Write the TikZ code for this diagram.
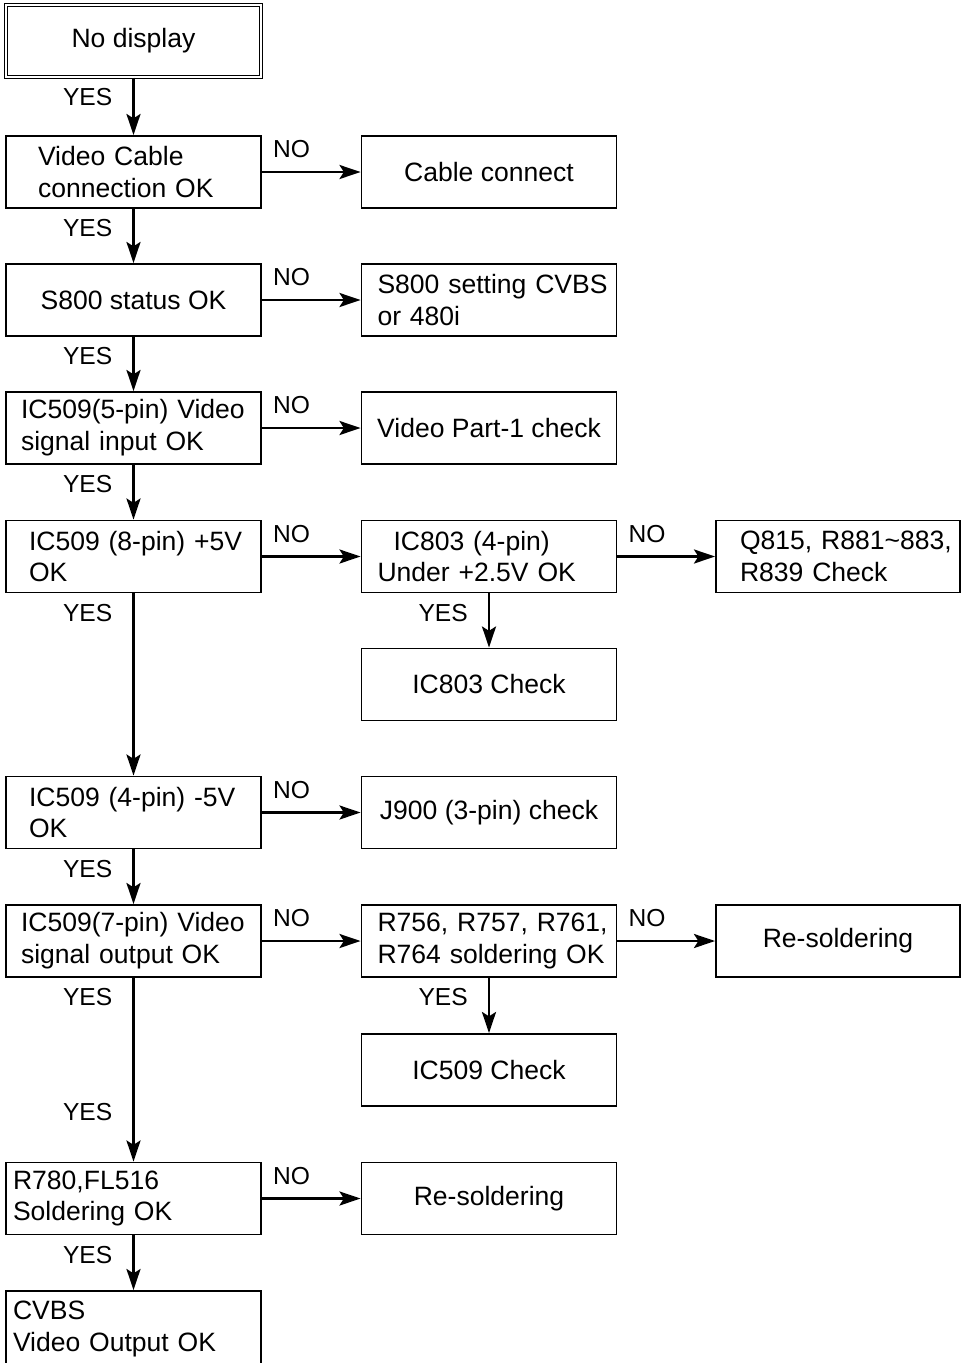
\documentclass[tikz,border=0pt]{standalone}
\usepackage{fontspec}
\setmainfont{Liberation Sans}
\usepackage{tikz}
\usetikzlibrary{arrows.meta,positioning}
\hyphenpenalty=10000
\exhyphenpenalty=10000
\tikzset{
    box/.style={draw=black, line width=1.1pt, minimum width=5.1cm, minimum height=1.44cm,
        font=\fontsize{15.1pt}{18.1pt}\selectfont, align=center},
    lbox/.style={box, align=left, inner xsep=0pt, text width=#1},
    narrow/.style={minimum width=4.88cm},
    arr/.style={line width=1.4pt, -{Stealth[length=12pt, width=8pt, inset=2.5pt]}},
    yeslbl/.style={font=\fontsize{14pt}{16pt}\selectfont, inner sep=0pt, anchor=north east, xshift=-0.4cm, yshift=-0.19cm},
    nolbl/.style={font=\fontsize{14pt}{16pt}\selectfont, inner sep=0pt, anchor=south west, xshift=0.2cm, yshift=0.26cm}
}
\begin{document}
\begin{tikzpicture}[x=0.02cm, y=-0.02cm]
        \useasboundingbox (0,0) rectangle (962,1363);
        % left column
        \node[box, double, line width=0.7pt, double distance=1.3pt] (nodisp) at (133.5, 41) {No display};
        \node[lbox=3.82cm] (vcable) at (133.5, 172) {Video~Cable\\connection~OK};
        \node[box] (s800) at (133.5, 300) {S800 status OK};
        \node[lbox=4.5cm] (ic5p) at (133.5, 428) {IC509(5-pin)~Video\\signal~input~OK};
        \node[lbox=4.18cm] (ic8p) at (133.5, 556.5) {IC509~(8-pin)~+5V\\OK};
        \node[lbox=4.18cm] (ic4p) at (133.5, 812.5) {IC509~(4-pin)~-5V\\OK};
        \node[lbox=4.5cm] (ic7p) at (133.5, 941) {IC509(7-pin)~Video\\signal~output~OK};
        \node[lbox=4.82cm] (r780) at (133.5, 1198.5) {R780,FL516\\Soldering~OK};
        \node[lbox=4.82cm, minimum height=1.52cm] (cvbs) at (133.5, 1329) {CVBS\\Video~Output~OK};
        % middle column
        \node[box] (cable) at (489, 172) {Cable connect};
        \node[lbox=4.46cm] (s800set) at (489, 300) {S800~setting~CVBS\\or~480i};
        \node[box] (vpart) at (489, 428) {Video Part-1 check};
        \node[lbox=4.46cm] (ic803) at (489, 556.5) {\hspace*{0.32cm}IC803~(4-pin)\\Under~+2.5V~OK};
        \node[box] (ic803chk) at (489, 684.5) {IC803 Check};
        \node[box] (j900) at (489, 812.5) {J900 (3-pin) check};
        \node[lbox=4.46cm] (r756) at (489, 941) {R756,~R757,~R761,\\R764~soldering~OK};
        \node[box] (ic509chk) at (489, 1070) {IC509 Check};
        \node[box] (resold) at (489, 1198.5) {Re-soldering};
        % right column
        \node[lbox=3.92cm, narrow] (q815) at (838, 556.5) {Q815,~R881\textasciitilde 883,\\R839~Check};
        \node[box, narrow] (resoldr) at (838, 941) {Re-soldering};

        % YES arrows
        \draw[arr] (nodisp) -- node[yeslbl, pos=0] {YES} (vcable);
        \draw[arr] (vcable) -- node[yeslbl, pos=0] {YES} (s800);
        \draw[arr] (s800) -- node[yeslbl, pos=0] {YES} (ic5p);
        \draw[arr] (ic5p) -- node[yeslbl, pos=0] {YES} (ic8p);
        \draw[arr] (ic8p) -- node[yeslbl, pos=0] {YES} (ic4p);
        \draw[arr] (ic4p) -- node[yeslbl, pos=0] {YES} (ic7p);
        \draw[arr] (ic7p) -- node[yeslbl, pos=0] {YES}
            node[yeslbl, pos=1, anchor=south east, yshift=0.98cm] {YES} (r780);
        \draw[arr] (r780) -- node[yeslbl, pos=0] {YES} (cvbs);
        \draw[arr] (ic803) -- node[yeslbl, pos=0] {YES} (ic803chk);
        \draw[arr] (r756) -- node[yeslbl, pos=0] {YES} (ic509chk);

        % NO arrows
        \draw[arr] (vcable) -- node[nolbl, pos=0] {NO} (cable);
        \draw[arr] (s800) -- node[nolbl, pos=0] {NO} (s800set);
        \draw[arr] (ic5p) -- node[nolbl, pos=0] {NO} (vpart);
        \draw[arr] (ic8p) -- node[nolbl, pos=0] {NO} (ic803);
        \draw[arr] (ic803) -- node[nolbl, pos=0] {NO} (q815);
        \draw[arr] (ic4p) -- node[nolbl, pos=0] {NO} (j900);
        \draw[arr] (ic7p) -- node[nolbl, pos=0] {NO} (r756);
        \draw[arr] (r756) -- node[nolbl, pos=0] {NO} (resoldr);
        \draw[arr] (r780) -- node[nolbl, pos=0] {NO} (resold);
    \end{tikzpicture}
\end{document}
